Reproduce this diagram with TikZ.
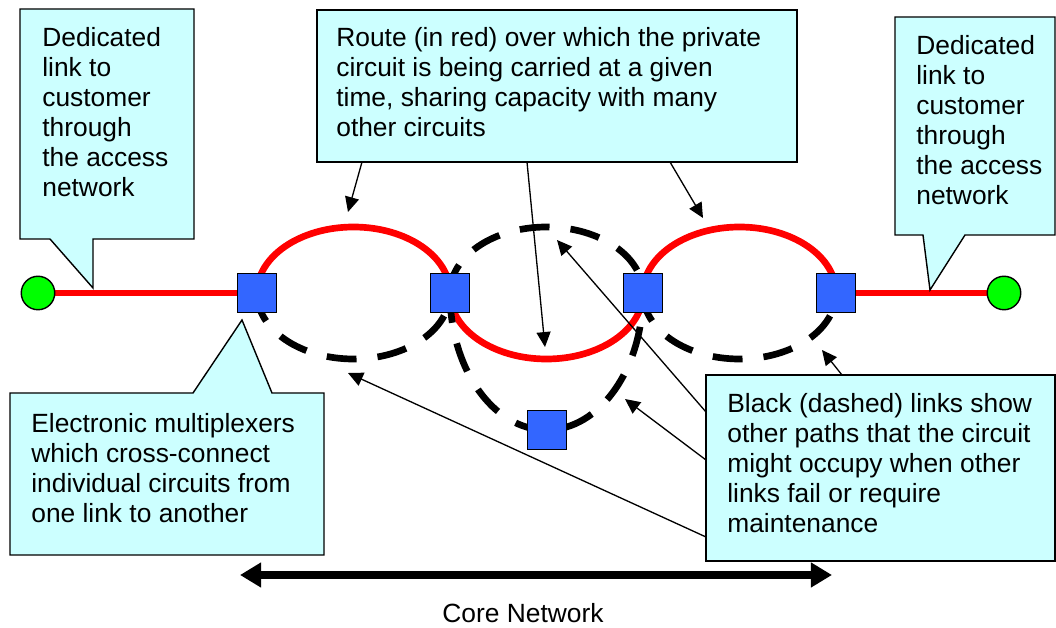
\documentclass[tikz,border=0pt]{standalone}
\usepackage{fontspec}
\setmainfont{Liberation Sans}
\usetikzlibrary{arrows.meta,backgrounds}

\definecolor{calloutfill}{HTML}{CCFFFF}
\definecolor{muxblue}{HTML}{3366FF}
\definecolor{custgreen}{HTML}{00FF00}

\tikzset{
  callout/.style={draw=black, fill=calloutfill, line width=0.8pt, line join=miter},
  calltext/.style={anchor=north west, inner sep=0pt, align=left, font=\fontsize{15}{17.07}\selectfont},
  mux/.style={draw=black, fill=muxblue, minimum size=0.79cm, inner sep=0pt, line width=0.8pt},
  customer/.style={circle, draw=black, fill=custgreen, minimum size=0.67cm, inner sep=0pt, line width=0.8pt},
  redlink/.style={red, line width=3.8pt},
  sparelink/.style={black, line width=3.8pt, dash pattern=on 17pt off 12pt},
  pointer/.style={-{Triangle[length=8.5pt,width=8pt]}, line width=0.75pt},
}

\begin{document}
\begin{tikzpicture}[x=0.02cm, y=-0.02cm]
    \useasboundingbox (0,0) rectangle (1056,628);

    % Customers at both ends
    \node[customer] (custL) at (38,293) {};
    \node[customer] (custR) at (1004,293) {};

    % Electronic multiplexers
    \node[mux] (mux1) at (257,293) {};
    \node[mux] (mux2) at (450,293) {};
    \node[mux] (mux3) at (643,293) {};
    \node[mux] (mux4) at (836,293) {};
    \node[mux] (mux5) at (547,430) {};

    % Links, behind the multiplexers
    \begin{scope}[on background layer]
        \draw[redlink] (custL) -- (mux1);
        \draw[redlink] (mux4) -- (custR);

        % route of the private circuit
        \draw[redlink] (mux1.center) arc[start angle=180, end angle=360, x radius=96.5, y radius=66];
        \draw[redlink] (mux2.center) arc[start angle=180, end angle=0, x radius=96.5, y radius=66];
        \draw[redlink] (mux3.center) arc[start angle=180, end angle=360, x radius=96.5, y radius=66];

        % other paths
        \draw[sparelink] (mux1.center) arc[start angle=180, end angle=0, x radius=96.5, y radius=66];
        \draw[sparelink] (mux2.center) arc[start angle=180, end angle=360, x radius=96.5, y radius=66];
        \draw[sparelink] (mux3.center) arc[start angle=180, end angle=0, x radius=96.5, y radius=66];
        \draw[sparelink] (mux2.center) arc[start angle=180, end angle=0, x radius=96.5, y radius=137];
    \end{scope}

    % Callout: access link, left
    \draw[callout] (20,9) -- (194,9) -- (194,239) -- (93,239) -- (93,288) -- (50,239) -- (20,239) -- cycle;
    \node[calltext] (accLtext) at (42,27) {Dedicated\\link to\\customer\\through\\the access\\network};

    % Callout: access link, right
    \draw[callout] (895,17) -- (1055,17) -- (1055,235) -- (965,235) -- (930,290) -- (923,235) -- (895,235) -- cycle;
    \node[calltext] (accRtext) at (916,35) {Dedicated\\link to\\customer\\through\\the access\\network};

    % Callout: route in red
    \draw[callout] (317,10) rectangle (797,162);
    \node[calltext] (routetext) at (336,27) {Route (in red) over which the private\\circuit is being carried at a given\\time, sharing capacity with many\\other circuits};

    % Callout: multiplexers
    \draw[callout] (10,393) -- (193,393) -- (242,320) -- (272,393) -- (324,393) -- (324,555) -- (10,555) -- cycle;
    \node[calltext] (muxtext) at (31,413) {Electronic multiplexers\\which cross-connect\\individual circuits from\\one link to another};

    % Callout: dashed links
    \draw[callout] (706,375) rectangle (1055,561);
    \node[calltext] (sparetext) at (727,393) {Black (dashed) links show\\other paths that the circuit\\might occupy when other\\links fail or require\\maintenance};

    % Arrows from the callouts
    \coordinate (routeA) at (362,162);
    \coordinate (routeB) at (527,162);
    \coordinate (routeC) at (670,162);
    \coordinate (redA) at (348,212);
    \coordinate (redB) at (545,347);
    \coordinate (redC) at (703,218);
    \draw[pointer] (routeA) -- (redA);
    \draw[pointer] (routeB) -- (redB);
    \draw[pointer] (routeC) -- (redC);

    \coordinate (spareA) at (706,412);
    \coordinate (spareB) at (706,460);
    \coordinate (spareC) at (706,537);
    \coordinate (spareD) at (842,375);
    \coordinate (dashA) at (557,240);
    \coordinate (dashB) at (625,399);
    \coordinate (dashC) at (348,373);
    \coordinate (dashD) at (822,350);
    \draw[pointer] (spareA) -- (dashA);
    \draw[pointer] (spareB) -- (dashB);
    \draw[pointer] (spareC) -- (dashC);
    \draw[pointer] (spareD) -- (dashD);

    % Core network span
    \coordinate (coreL) at (240,575);
    \coordinate (coreR) at (832,575);
    \draw[{Triangle[length=12pt,width=13.5pt]}-{Triangle[length=12pt,width=13.5pt]}, line width=4pt] (coreL) -- (coreR);
    \node[font=\fontsize{15}{17.07}\selectfont] (core) at (523,613) {Core Network};
\end{tikzpicture}
\end{document}
